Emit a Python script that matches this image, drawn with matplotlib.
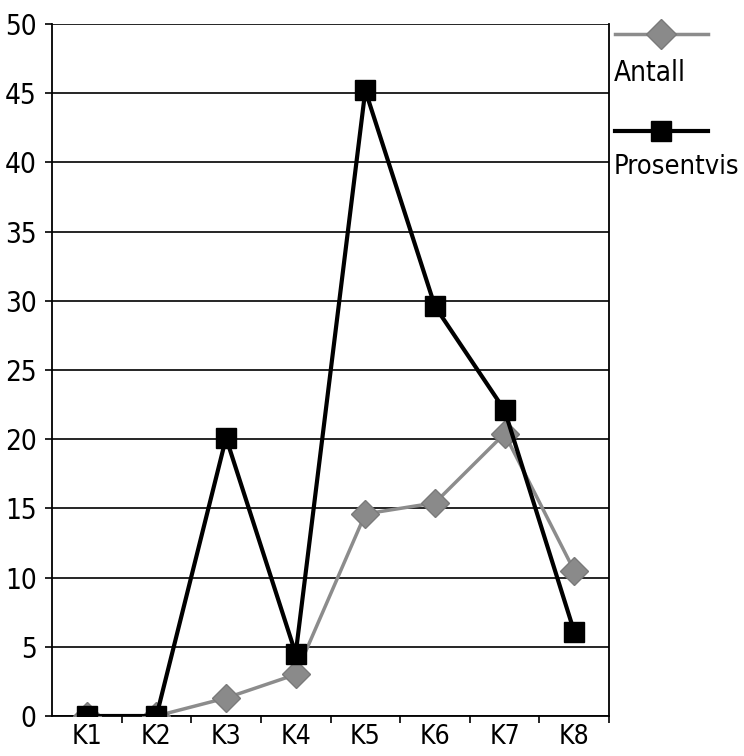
import matplotlib
matplotlib.use("Agg")
import matplotlib.pyplot as plt
from matplotlib.lines import Line2D
import numpy as np

categories = ["K1", "K2", "K3", "K4", "K5", "K6", "K7", "K8"]
antall = [0, 0, 1.3, 3.0, 14.6, 15.4, 20.4, 10.5]
prosentvis = [0, 0, 20.1, 4.5, 45.2, 29.6, 22.1, 6.1]
yticks = [0, 5, 10, 15, 20, 25, 30, 35, 40, 45, 50]

plt.rcParams['font.family'] = ['DejaVu Sans']
plt.rcParams['font.stretch'] = 'condensed'
FS = 20

fig = plt.figure(figsize=(7.44, 7.56), dpi=100)
ax = fig.add_axes([52/744, 1 - 716/756, (609 - 52)/744, (716 - 24)/756])

x = np.arange(len(categories))
gray = "#8c8c8c"
ax.plot(x, antall, color=gray, lw=2.5, marker="D", markersize=14,
        markerfacecolor="#8a8a8a", markeredgecolor="#7a7a7a", zorder=3)
ax.plot(x, prosentvis, color="black", lw=3, marker="s", markersize=14,
        markerfacecolor="black", markeredgecolor="black", zorder=4)

ax.set_xlim(-0.5, len(categories) - 0.5)
ax.set_ylim(0, 50)
ax.set_yticks(yticks)
ax.set_yticklabels([str(v) for v in yticks], fontsize=FS)
ax.yaxis.grid(True, color="black", lw=1.2)
ax.set_axisbelow(True)

ax.set_xticks(np.arange(len(categories)) + 0.5)
ax.set_xticklabels([])
ax.set_xticks(x, minor=True)
ax.set_xticklabels(categories, minor=True, fontsize=19)
ax.tick_params(axis="x", which="major", direction="out", length=5, width=1.2)
ax.tick_params(axis="x", which="minor", length=0, pad=6)
ax.tick_params(axis="y", direction="out", length=5, width=1.2, pad=6)

for s in ["left", "bottom", "right"]:
    ax.spines[s].set_linewidth(1.3)
    ax.spines[s].set_color("black")
ax.spines["top"].set_visible(False)

# legend (drawn in figure coordinates)
def fx(px):
    return px / 744
def fy(py):
    return 1 - py / 756

fig.add_artist(Line2D([fx(615), fx(708)], [fy(34), fy(34)], color=gray, lw=2.5,
                      transform=fig.transFigure))
fig.add_artist(Line2D([fx(661)], [fy(34)], marker="D", markersize=15,
                      markerfacecolor="#8a8a8a", markeredgecolor="#7a7a7a",
                      transform=fig.transFigure))
fig.text(fx(614), fy(73), "Antall", fontsize=FS, va="center", ha="left")

fig.add_artist(Line2D([fx(615), fx(708)], [fy(131), fy(131)], color="black", lw=3,
                      transform=fig.transFigure))
fig.add_artist(Line2D([fx(661)], [fy(131)], marker="s", markersize=14,
                      markerfacecolor="black", markeredgecolor="black",
                      transform=fig.transFigure))
fig.text(fx(614), fy(167), "Prosentvis", fontsize=19.5, va="center", ha="left")

fig.savefig("out.png", dpi=100, facecolor="white")
